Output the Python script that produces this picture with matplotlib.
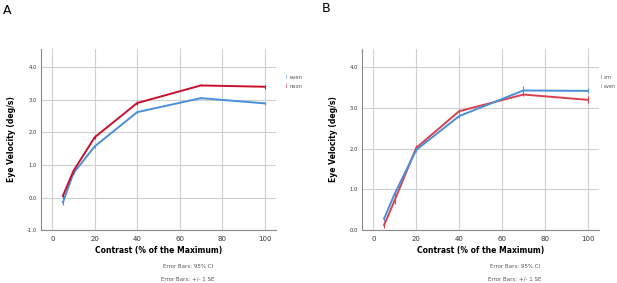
import matplotlib.pyplot as plt

contrast = [5, 10, 20, 40, 70, 100]

# panel A
a_even = [-0.15, 0.75, 1.57, 2.62, 3.05, 2.89]
a_even_err = [0.08, 0.04, 0.04, 0.03, 0.04, 0.04]
a_noon = [0.05, 0.82, 1.85, 2.90, 3.44, 3.40]
a_noon_err = [0.05, 0.05, 0.06, 0.07, 0.03, 0.06]

# panel B
b_am = [0.12, 0.74, 2.02, 2.92, 3.33, 3.20]
b_am_err = [0.06, 0.10, 0.07, 0.05, 0.04, 0.09]
b_even = [0.28, 0.90, 1.97, 2.80, 3.43, 3.42]
b_even_err = [0.05, 0.06, 0.06, 0.04, 0.10, 0.06]

blue = "#4A8FD8"
red_a = "#C8102E"
red_b = "#D9404E"
grey = "#8a8a8a"

fig = plt.figure(figsize=(6.17, 2.83), dpi=100)


def style(ax, ylim, yticks):
    ax.set_xlim(-5.3, 105.3)
    ax.set_ylim(*ylim)
    ax.set_xticks([0, 20, 40, 60, 80, 100])
    ax.set_yticks(yticks)
    ax.set_yticklabels([f"{t:.1f}" for t in yticks])
    ax.tick_params(axis="x", labelsize=5, length=0, pad=4, colors="#333333")
    ax.tick_params(axis="y", labelsize=3.8, length=0, pad=3, colors="#333333")
    for s in ["top", "right"]:
        ax.spines[s].set_visible(False)
    for s in ["left", "bottom"]:
        ax.spines[s].set_color(grey)
        ax.spines[s].set_linewidth(0.8)
    ax.grid(True, color="#d0d0d0", linewidth=0.8)
    ax.set_axisbelow(True)
    ax.set_xlabel("Contrast (% of the Maximum)", fontsize=5.5, fontweight="bold", labelpad=3)
    ax.set_ylabel("Eye Velocity (deg/s)", fontsize=5.5, fontweight="bold", labelpad=8)


def series(ax, y, err, color):
    ax.errorbar(contrast, y, yerr=err, color=color, lw=1.4, elinewidth=0.8,
                capsize=0, zorder=3)


axA = fig.add_axes([0.0665, 0.187, 0.3805, 0.64])
series(axA, a_even, a_even_err, blue)
series(axA, a_noon, a_noon_err, red_a)
style(axA, (-1.0, 4.56), [-1.0, 0.0, 1.0, 2.0, 3.0, 4.0])
axA.text(1.04, 0.84, "I", color=blue, fontsize=4, transform=axA.transAxes, va="center")
axA.text(1.06, 0.84, "even", color="#555555", fontsize=3.8, transform=axA.transAxes, va="center")
axA.text(1.04, 0.79, "I", color=red_a, fontsize=4, transform=axA.transAxes, va="center")
axA.text(1.06, 0.79, "noon", color="#555555", fontsize=3.8, transform=axA.transAxes, va="center")

axB = fig.add_axes([0.5867, 0.187, 0.3843, 0.64])
series(axB, b_am, b_am_err, red_b)
series(axB, b_even, b_even_err, blue)
style(axB, (0.0, 4.45), [0.0, 1.0, 2.0, 3.0, 4.0])
axB.text(1.005, 0.84, "I", color=red_b, fontsize=4, transform=axB.transAxes, va="center")
axB.text(1.02, 0.84, "am", color="#555555", fontsize=3.5, transform=axB.transAxes, va="center")
axB.text(1.005, 0.79, "I", color=blue, fontsize=4, transform=axB.transAxes, va="center")
axB.text(1.02, 0.79, "even", color="#555555", fontsize=3.5, transform=axB.transAxes, va="center")

# footers
for x in [188 / 617, 515 / 617]:
    fig.text(x, 1 - 267 / 283, "Error Bars: 95% CI", fontsize=4, color="#555555",
             ha="center", va="center")
    fig.text(x, 1 - 279 / 283, "Error Bars: +/- 1 SE", fontsize=4, color="#555555",
             ha="center", va="center")

fig.text(3 / 617, 1 - 11 / 283, "A", fontsize=9, va="center")
fig.text(322 / 617, 1 - 8 / 283, "B", fontsize=9, va="center")

fig.savefig("out.png", dpi=100)
